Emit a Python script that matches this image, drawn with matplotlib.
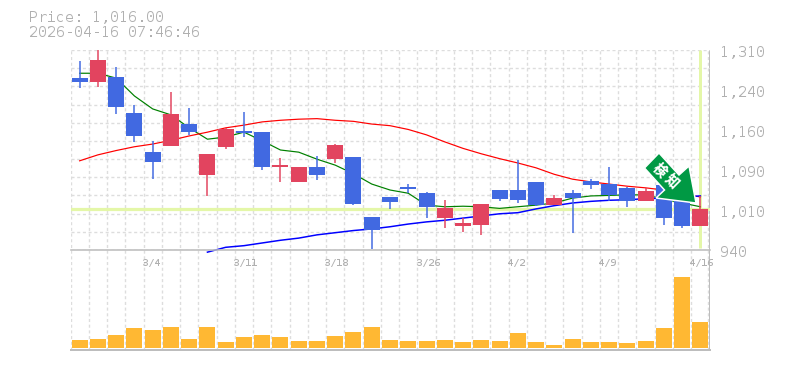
import numpy as np
import matplotlib
matplotlib.use("Agg")
import matplotlib.pyplot as plt
from matplotlib.patches import Polygon

W, H = 785, 370
plt.rcParams['lines.scale_dashes'] = False
plt.rcParams['font.family'] = ['DejaVu Sans Mono', 'Liberation Mono']
plt.rcParams['text.hinting'] = 'native'
plt.rcParams['text.hinting_factor'] = 1

opens  = [1258,1251,1260,1193,1121,1132,1173,1079,1131,1160,1158,1094,1066,1094,1108,1112,1001,1038,1057,1045,
          999,984,986,1051,1051,1066,1023,1045,1068,1062,1055,1031,1060,1032,984]
highs  = [1290,1310,1279,1208,1142,1232,1203,1118,1166,1195,1158,1110,1094,1114,1136,1112,1001,1038,1062,1047,
          1032,999,1025,1051,1106,1066,1042,1051,1071,1094,1057,1055,1060,1032,1040]
lows   = [1240,1242,1192,1140,1071,1132,1153,1040,1127,1149,1088,1066,1066,1070,1101,1023,942,1016,1045,999,
          981,973,968,1031,1027,1021,1023,971,1053,1031,1020,1031,986,981,984]
closes = [1251,1292,1205,1151,1103,1192,1158,1118,1164,1157,1094,1097,1094,1079,1134,1025,977,1029,1053,1020,
          1018,990,1025,1034,1032,1023,1036,1036,1060,1042,1031,1049,999,984,1016]
ma_short = [1267,1267,1258,1225,1201,1190,1166,1145,1149,1158,1142,1125,1121,1108,1097,1081,1062,1051,1045,1023,
            1020,1021,1020,1017,1020,1023,1027,1036,1040,1041,1042,1042,1034,1027,1020]
ma_mid = [1105,1116,1124,1131,1136,1143,1151,1158,1166,1171,1177,1180,1182,1183,1180,1178,1173,1170,1163,1153,
          1140,1128,1118,1109,1101,1092,1080,1071,1066,1062,1058,1055,1051,1045,1038]
ma_long = [936,945,948,953,958,962,968,972,976,979,983,988,992,995,999,1003,1007,1009,1016,1022,1027,1030,1032,
           1033,1035,1036,1038,1040]
volumes = [8,9,13,20,18,21,9,21,6,11,13,11,7,7,12,16,21,8,7,7,8,6,8,7,15,6,3,9,6,6,5,7,20,71,26]
tick_idx = [4,9,14,19,24,29,34]
date_labels = ['3/4','3/11','3/18','3/26','4/2','4/9','4/16']
price_ticks = [1310,1236,1162,1088,1014,940]
price_labels = ['1,310','1,240','1,160','1,090','1,010','940']
last_price = 1016
title_lines = ['Price: 1,016.00','2026-04-16 07:46:46']
signal_text = '検知'

GRID='#dddddd'; AXC='#bdbdbd'; TXT='#b0b0b0'
RED='#e2445f'; BLUE='#4169e1'; VOL='#ffb833'; HL='#e4f7a8'
n=len(closes); x=np.arange(n)
LEFT,RIGHT=70.5,709.5

def axes_px(l,t,r,b):
    return fig.add_axes([l/W,1-b/H,(r-l)/W,(b-t)/H])

fig=plt.figure(figsize=(W/100,H/100),dpi=100,facecolor='white')
dash=(0,(2.2,1.9))
px=0.72

bg=axes_px(LEFT,50,RIGHT,350); bg.set_xlim(-0.5,n-0.5); bg.set_ylim(0,1); bg.axis('off')
for b in np.arange(n)-0.5:
    bg.axvline(b,color=GRID,lw=1.4*px,ls=dash,zorder=0)
bg.axvline(n-0.6,color=GRID,lw=1.4*px,ls=dash,zorder=0)
bg.axvline(n-0.46,color=AXC,lw=2*px,zorder=1)

ax=axes_px(LEFT,50,RIGHT,250); ax.patch.set_alpha(0)
ax.set_xlim(-0.5,n-0.5); ax.set_ylim(940,1310)
for s in ['top','left','right']: ax.spines[s].set_visible(False)
ax.spines['bottom'].set_color(AXC); ax.spines['bottom'].set_linewidth(1.6*px)
ax.set_yticks(np.linspace(940,1310,12)); ax.set_xticks([])
ax.tick_params(left=False,labelleft=False,bottom=False)
ax.grid(axis='y',color=GRID,lw=1.4*px,ls=dash); ax.set_axisbelow(True)

ax.axhline(last_price,color=HL,lw=3.2*px,zorder=1)
ax.plot([n-1,n-1],[944,1310],color=HL,lw=3*px,zorder=1,solid_capstyle='butt')

ax.plot(x,ma_short,color='#008000',lw=1.2*px,zorder=2,clip_on=False)
ax.plot(x,ma_mid,color='#ff0000',lw=1.2*px,zorder=2,clip_on=False)
ax.plot(x[n-len(ma_long):],ma_long,color='#0000ff',lw=1.5*px,zorder=2,clip_on=False)

up=np.array(closes)>=np.array(opens)
cols=[RED if u else BLUE for u in up]
ax.vlines(x,lows,highs,colors=cols,lw=1.5*px,zorder=3)
ax.bar(x,np.abs(np.array(closes)-np.array(opens)),bottom=np.minimum(opens,closes),width=16/18.25,color=cols,zorder=4,linewidth=0)

for v,l in zip(price_ticks,price_labels):
    ax.annotate(l,xy=(1,v),xycoords=ax.get_yaxis_transform(),xytext=(10.5,-3),textcoords='offset pixels',
                fontsize=15*px,color=TXT,ha='left',va='center')
for i,l in zip(tick_idx,date_labels):
    ax.annotate(l,xy=(i,0),xycoords=ax.get_xaxis_transform(),xytext=(-11,-13),textcoords='offset pixels',
                fontsize=10.5*px,color=TXT,ha='left',va='center')

vx=axes_px(LEFT,270,RIGHT,350); vx.patch.set_alpha(0)
vx.set_xlim(-0.5,n-0.5); vx.set_ylim(-2,78)
for s in ['top','left','right']: vx.spines[s].set_visible(False)
vx.spines['bottom'].set_color(AXC); vx.spines['bottom'].set_linewidth(2*px)
vx.set_xticks([]); vx.set_yticks([])
vx.bar(x,volumes,width=16/18.25,color=VOL,linewidth=0)

fig.text(29/W,1-18/H,title_lines[0],fontsize=15*px,color=TXT,va='center',ha='left')
fig.text(29/W,1-33/H,title_lines[1],fontsize=15*px,color=TXT,va='center',ha='left')

pts=[(659,153),(679,175),(689,166),(696,203),(656,198),(664.5,190),(644.5,168)]
fig.add_artist(Polygon([(p/W,1-q/H) for p,q in pts],closed=True,transform=fig.transFigure,
                       facecolor='#009944',edgecolor='white',linewidth=1.5*px,zorder=10))
for ch,(cx,cy) in zip(signal_text,[(660,170),(672,181.5)]):
    fig.text(cx/W,1-cy/H,ch,rotation=-45,rotation_mode='anchor',ha='center',va='center',
             fontsize=13*px,fontweight='bold',color='white',family=['Noto Sans CJK JP'],zorder=11)

fig.savefig('out.png',dpi=100,facecolor='white')
